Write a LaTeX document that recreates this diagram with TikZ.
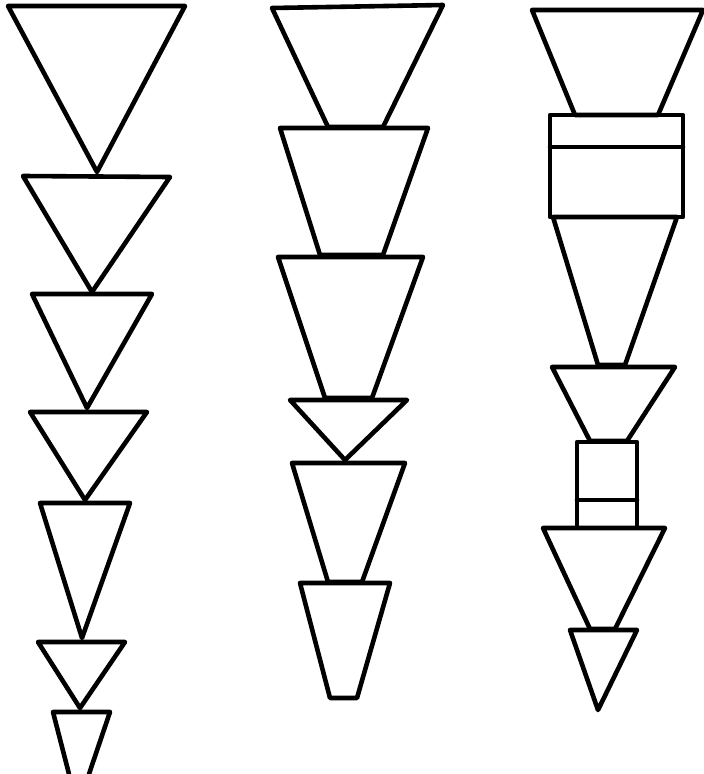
\documentclass[tikz,border=0pt]{standalone}
\usepackage{tikz}

\begin{document}
\begin{tikzpicture}[x=1pt, y=-1pt,
    piece/.style={draw, line width=4.6pt, line join=round, line cap=round}]
                    \useasboundingbox (0,0) rectangle (704,774);
                    % Left column
                    \draw[piece] (8,6) -- (185,6) -- (97,172) -- cycle;
                    \draw[piece] (23,176) -- (170,177) -- (92,292) -- cycle;
                    \draw[piece] (32,294) -- (152,294) -- (87,408) -- cycle;
                    \draw[piece] (30,412) -- (147,412) -- (85,500) -- cycle;
                    \draw[piece] (40,503) -- (130,503) -- (82,638) -- cycle;
                    \draw[piece] (38,642) -- (125,642) -- (80,708) -- cycle;
                    \draw[piece] (69,774) -- (53,712) -- (110,712) -- (89,774);
                    % Middle column
                    \draw[piece] (272,8) -- (443,5) -- (383,127) -- (328,127) -- cycle;
                    \draw[piece] (280,128) -- (428,128) -- (383,255) -- (320,255) -- cycle;
                    \draw[piece] (278,257) -- (423,257) -- (372,398) -- (325,398) -- cycle;
                    \draw[piece] (290,400) -- (407,400) -- (345,460) -- cycle;
                    \draw[piece] (292,463) -- (405,463) -- (362,582) -- (328,582) -- cycle;
                    \draw[piece] (300,583) -- (390,583) -- (357,698) -- (330,698) -- cycle;
                    % Right column
                    \draw[piece] (532,10) -- (703,10) -- (658,115) -- (575,115) -- cycle;
                    \draw[piece] (550,115) rectangle (683,217);
                    \draw[piece] (550,147) -- (683,147);
                    \draw[piece] (553,217) -- (677,217) -- (625,365) -- (598,365) -- cycle;
                    \draw[piece] (552,367) -- (675,367) -- (627,441) -- (590,441) -- cycle;
                    \draw[piece] (577,442) rectangle (637,528);
                    \draw[piece] (577,500) -- (637,500);
                    \draw[piece] (543,528) -- (665,528) -- (615,629) -- (590,629) -- cycle;
                    \draw[piece] (570,630) -- (637,630) -- (598,710) -- cycle;
                \end{tikzpicture}
\end{document}
